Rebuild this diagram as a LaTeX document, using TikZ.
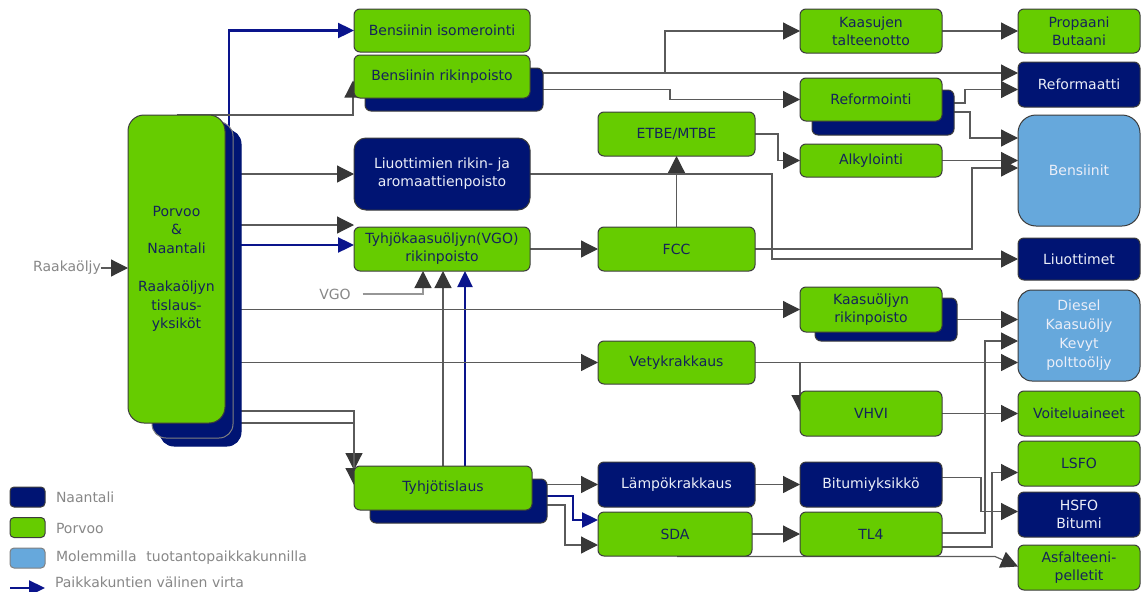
\documentclass[tikz,border=0pt]{standalone}
\usepackage{fontspec}
\setmainfont{DejaVu Sans}
\usetikzlibrary{arrows.meta,calc,backgrounds}
\definecolor{pgreen}{RGB}{102,204,0}
\definecolor{navy}{RGB}{0,20,115}
\definecolor{lblue}{RGB}{102,168,220}
\definecolor{gtext}{RGB}{20,35,90}
\definecolor{ntext}{RGB}{235,238,248}
\definecolor{edge}{RGB}{60,60,60}
\definecolor{lgray}{RGB}{90,90,90}
\definecolor{hgray}{RGB}{55,55,55}
\definecolor{vgogray}{RGB}{150,150,150}
\definecolor{bflowc}{RGB}{10,20,140}
\definecolor{legtext}{RGB}{135,135,135}
\begin{document}
\begin{tikzpicture}[x=1pt,y=-1pt,
  every node/.style={inner sep=0pt, outer sep=0pt},
  wh/.style 2 args={minimum width=#1, minimum height=#2},
  base/.style={draw=edge, line width=1pt, rounded corners=6pt, align=center, font=\fontsize{14}{18}\selectfont},
  gbox/.style={base, fill=pgreen, text=gtext},
  nbox/.style={base, fill=navy, text=ntext},
  lbox/.style={base, fill=lblue, text=ntext},
  shadowbox/.style={draw=edge, line width=1pt, fill=navy, rounded corners=6pt},
  flow/.style={draw=lgray, line width=1.2pt, -{Triangle[length=17pt,width=17pt,color=hgray]}},
  bline/.style={draw=bflowc, line width=2.4pt, -{Triangle[length=16pt,width=15pt]}},
  lab/.style={text=legtext, font=\fontsize{14}{17}\selectfont},
]
\useasboundingbox (0,0) rectangle (1144,592);

% ---- main distillation block
\node[shadowbox, draw=navy, wh={81}{316}, rounded corners=14pt] (mainb) at (200.5,288) {};
\node[shadowbox, draw=gray, wh={81}{316}, rounded corners=14pt] (mainm) at (192.5,280) {};
\node[gbox, wh={97}{308}, rounded corners=16pt, font=\fontsize{14}{18.5}\selectfont] (main) at (176.5,269)
  {Porvoo\\\&\\Naantali\\[20pt]Raakaöljyn\\tislaus-\\yksiköt};

% ---- column 2
\node[gbox, wh={176}{43}] (iso) at (442,30.5) {Bensiinin isomerointi};
\node[shadowbox, wh={178}{43}] (rik2) at (454,89.5) {};
\node[gbox, wh={176}{43}] (rik) at (442,76.5) {Bensiinin rikinpoisto};
\node[nbox, wh={176}{72}, rounded corners=12pt] (liu) at (442,174) {Liuottimien rikin- ja\\aromaattienpoisto};
\node[gbox, wh={176}{44}] (vgo) at (442,249) {Tyhjökaasuöljyn(VGO)\\rikinpoisto};
\node[shadowbox, wh={177}{44}] (tyh2) at (458.5,501) {};
\node[gbox, wh={178}{44}] (tyh) at (443,488) {Tyhjötislaus};

% ---- column 3
\node[gbox, wh={157}{44}] (etbe) at (676.5,134) {ETBE/MTBE};
\node[gbox, wh={157}{44}] (fcc) at (676.5,249) {FCC};
\node[gbox, wh={157}{43}] (vety) at (676.5,362.5) {Vetykrakkaus};
\node[nbox, wh={157}{45}] (lamp) at (676.5,484.5) {Lämpökrakkaus};
\node[gbox, wh={154}{44}] (sda) at (675,534) {SDA};

% ---- column 4
\node[gbox, wh={142}{44}] (kaas) at (871,31) {Kaasujen\\talteenotto};
\node[shadowbox, wh={142}{45}] (refo2) at (883,112.5) {};
\node[gbox, wh={142}{43}] (refo) at (871,99.5) {Reformointi};
\node[gbox, wh={142}{33}] (alk) at (871,160.5) {Alkylointi};
\node[shadowbox, wh={142}{43}] (kor2) at (886,319.5) {};
\node[gbox, wh={142}{45}] (kor) at (871,309.5) {Kaasuöljyn\\rikinpoisto};
\node[gbox, wh={142}{45}] (vhvi) at (871,413.5) {VHVI};
\node[nbox, wh={142}{45}] (bit) at (871,484.5) {Bitumiyksikkö};
\node[gbox, wh={142}{44}] (tl4) at (871,534) {TL4};

% ---- products
\node[gbox, wh={122}{44}] (prop) at (1079,31) {Propaani\\Butaani};
\node[nbox, wh={122}{45}] (refa) at (1079,84.5) {Reformaatti};
\node[lbox, wh={122}{111}, rounded corners=18pt] (bens) at (1079,170.5) {Bensiinit};
\node[nbox, wh={122}{42}] (liuot) at (1079,259) {Liuottimet};
\node[lbox, wh={122}{91}, rounded corners=14pt, font=\fontsize{14}{19}\selectfont] (dies) at (1079,335.5) {Diesel\\Kaasuöljy\\Kevyt\\polttoöljy};
\node[gbox, wh={122}{45}] (voit) at (1079,413.5) {Voiteluaineet};
\node[gbox, wh={122}{45}] (lsfo) at (1079,463.5) {LSFO};
\node[nbox, wh={122}{45}] (hsfo) at (1079,514.5) {HSFO\\Bitumi};
\node[gbox, wh={122}{45}] (asf) at (1079,567.5) {Asfalteeni-\\pelletit};

% ---- labels
\node[lab] (raw) at (67,268) {Raakaöljy};
\node[lab] (vgolab) at (335,294) {VGO};

% ---- legend
\node[shadowbox, wh={35}{20}, rounded corners=4pt] (ln) at (27.5,497) {};
\node[lab, anchor=west] (lnt) at (56,497) {Naantali};
\node[draw=edge, line width=1pt, fill=pgreen, wh={35}{20}, rounded corners=4pt] (lp) at (27.5,527.5) {};
\node[lab, anchor=west] (lpt) at (56,528) {Porvoo};
\node[draw=gray, line width=1pt, fill=lblue, wh={35}{20}, rounded corners=4pt] (lm) at (27.5,558) {};
\node[lab, anchor=west] (lmt) at (56,558) {Molemmilla\hspace{0.7em}tuotantopaikkakunnilla};
\node[lab, anchor=west] (lvt) at (55,582) {Paikkakuntien välinen virta};
\coordinate (la1) at (10,588);
\coordinate (la2) at (45,588);
\draw[bline] (la1) -- (la2);

% ---- connectors
\coordinate (bs) at (229,140);
\begin{pgfonlayer}{background}
\draw[flow] (raw.east) -- (main.west |- raw.east);
\draw[bline] (bs) |- (iso.west);
\draw[flow] (main.north) -| ($(rik.west)+(-1,4)$);
\draw[flow] (mainb.east |- liu.west) -- (liu.west);
\draw[flow] ($(mainb.east |- vgo.north west)+(0,-2)$) -- ($(vgo.north west)+(0,-2)$);
\draw[bline] ($(mainb.east |- vgo.west)+(0,-4)$) -- ($(vgo.west)+(0,-4)$);
\draw[flow, draw=vgogray] ($(vgolab.east)+(12,0)$) -| ($(vgo.south west)+(69,0)$);
\draw[flow] ($(tyh.north west)+(89,0)$) -- ($(vgo.south west)+(89,0)$);
\draw[bline] ($(tyh.north west)+(111,0)$) -- ($(vgo.south west)+(111,0)$);
\draw[flow] (mainb.east |- kor.west) -- (kor.west);
\draw[flow] (mainb.east |- vety.west) -- (vety.west);
\draw[flow] ($(mainb.east)+(0,123)$) -| ($(tyh.north west)+(0,4)$);
\draw[flow] ($(mainm.east)+(0,143)$) -| ($(tyh.west)+(0,-3)$);
\draw[flow] (vgo.east) -- (fcc.west);
\draw[flow] (fcc.north) -- (etbe.south);
\draw[flow] ($(rik.east)+(0,-3.5)$) -- ($(refa.west)+(0,-11.5)$);
\draw[flow] ($(rik.east)+(135,-3.5)$) |- (kaas.west);
\draw[flow] (rik2.east) -- ++(127,0) |- (refo.west);
\draw[flow] (kaas.east) -- (prop.west);
\draw[flow] ($(refo2.east)+(0,-9.5)$) -- ++(11,0) |- ($(refa.west)+(0,5)$);
\draw[flow] ($(refo2.east)+(0,-0.5)$) -- ++(16,0) |- ($(bens.west)+(0,-32.5)$);
\draw[flow] (etbe.east) -- ++(23,0) |- (alk.west);
\draw[flow] (alk.east) -- (bens.west |- alk.east);
\draw[flow] (fcc.east) -- ++(217,0) |- ($(bens.west)+(0,-2.5)$);
\draw[flow] (liu.east) -- ++(242,0) |- (liuot.west);
\draw[flow] (kor2.east) -- ($(dies.west)+(0,-16)$);
\draw[flow] (vety.east) -- (dies.west |- vety.east);
\draw[flow] ($(vety.east)+(45,0)$) -- ($(vhvi.north west)+(0,21)$);
\draw[flow] (vhvi.east) -- (voit.west);
\draw[flow] (lamp.east) -- (bit.west);
\draw[flow] (sda.east) -- (tl4.west);
\draw[flow] ($(tl4.east)+(0,-1)$) -- ++(43,0) |- ($(dies.west)+(0,5.5)$);
\draw[flow] ($(tl4.east)+(0,13)$) -- ++(50,0) |- ($(lsfo.west)+(0,9)$);
\draw[flow] ($(bit.east)+(0,-7)$) -- ++(39,0) |- ($(hsfo.west)+(0,-3)$);
\draw[flow] ($(sda.south)+(2,0.5)$) -- ($(asf.west |- sda.south)+(-23,0.5)$) -- ($(asf.west)+(0,-1)$);
\draw[flow] (tyh2.east |- lamp.west) -- (lamp.west);
\draw[bline] ($(tyh2.east)+(0,-5)$) -- ++(26,0) |- ($(sda.west)+(0,-14)$);
\draw[flow] ($(tyh.east)+(0,17)$) -- ++(33,0) |- ($(sda.west)+(0,11)$);
\end{pgfonlayer}
\end{tikzpicture}
\end{document}
